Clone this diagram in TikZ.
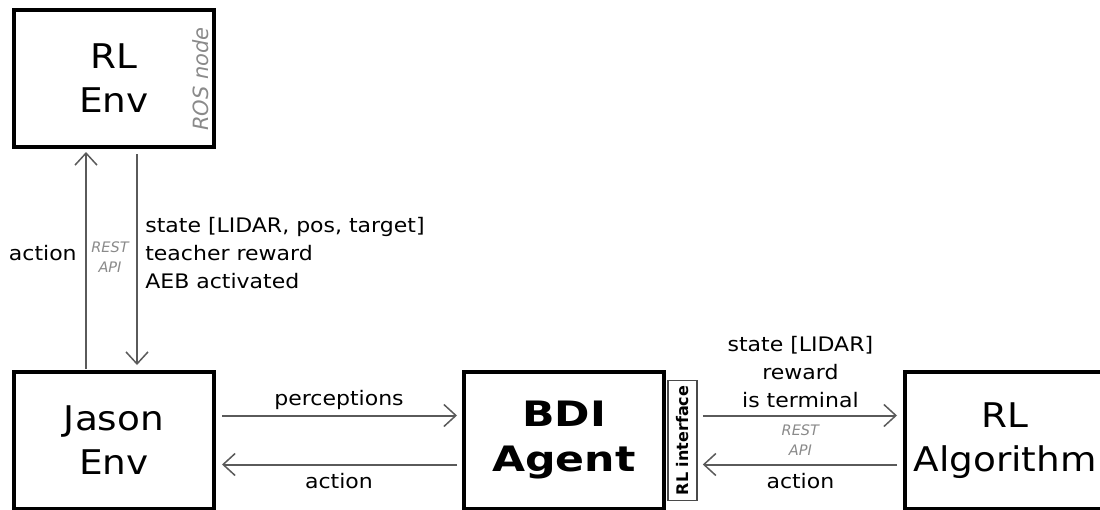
\documentclass[tikz,border=0pt]{standalone}
\usepackage{fontspec}
\usepackage{graphicx}
\setmainfont{DejaVu Sans}[FakeStretch=1.1]
\newfontfamily\bdifont{DejaVu Sans}[FakeStretch=1.22]
\newfontfamily\upfont{DejaVu Sans}
\usetikzlibrary{arrows.meta}
\definecolor{arrowgray}{HTML}{5A5A5A}
\definecolor{apigray}{HTML}{8A8A8A}
\definecolor{ifgray}{HTML}{4A4A4A}
\begin{document}
\begin{tikzpicture}[x=1pt,y=-1pt,
    lbl/.style={font=\fontsize{20}{28}\selectfont, align=center},
    api/.style={font=\upfont\fontsize{14.5}{20}\selectfont\itshape, text=apigray, align=center}]

      \useasboundingbox (0,0) rectangle (1100,509);
      \clip (0,0) rectangle (1100,509);

      \begin{scope}[every node/.style={draw, line width=4pt, minimum width=200pt,
          minimum height=137pt, inner sep=0pt, align=center,
          font=\fontsize{34}{44}\selectfont}]
        \node (rlenv) at (114,78.5)   {RL\\Env};
        \node (jason) at (114,440.5)  {Jason\\Env};
        \node[font=\bdifont\bfseries\fontsize{35}{45}\selectfont] (bdi) at (564,440.5) {BDI\\Agent};
        \node (rlalg) at (1005,440.5) {RL\\Algorithm};
      \end{scope}

      \node[draw=ifgray, line width=1.5pt, minimum width=29pt, minimum height=120pt,
        inner sep=0pt] (rlif) at (682.5,440.5)
        {\rotatebox{90}{\upfont\bfseries\fontsize{16}{16}\selectfont RL interface}};
      \node[rotate=90, text=apigray, font=\upfont\itshape\fontsize{21}{21}\selectfont]
        (ros) at (201,79) {ROS node};

      \begin{scope}[every edge/.style={draw=arrowgray, line width=2pt,
          -{Straight Barb[length=12pt,width=22pt,line width=1.5pt]}}]
        \path ([xshift=-28pt]jason.north) edge[shorten <=1pt, shorten >=3pt]
          node[pos=.53, left=5pt, lbl] {action}
          node[pos=.51, right=1pt, api] {REST\\API} ([xshift=-28pt]rlenv.south);
        \path ([xshift=23pt]rlenv.south) edge[shorten <=5pt, shorten >=5pt]
          node[pos=.47, right=4pt, lbl, align=left]
            {state [LIDAR, pos, target]\\teacher reward\\AEB activated} ([xshift=23pt]jason.north);
        \path ([yshift=25pt]jason.east) edge[shorten <=6pt, shorten >=5pt]
          node[above=2pt, lbl] {perceptions} ([yshift=25pt]bdi.west);
        \path ([yshift=-24pt]bdi.west) edge[shorten <=5pt, shorten >=6pt]
          node[below=4pt, lbl] {action} ([yshift=-24pt]jason.east);
        \path ([yshift=25pt]rlif.east) edge[shorten <=5pt, shorten >=6pt]
          node[above=3pt, lbl] {state [LIDAR]\\reward\\is terminal}
          node[below=5pt, api] {REST\\API} ([yshift=25pt]rlalg.west);
        \path ([yshift=-24pt]rlalg.west) edge[shorten <=6pt, shorten >=5pt]
          node[below=4pt, lbl] {action} ([yshift=-24pt]rlif.east);
      \end{scope}

    \end{tikzpicture}
\end{document}
